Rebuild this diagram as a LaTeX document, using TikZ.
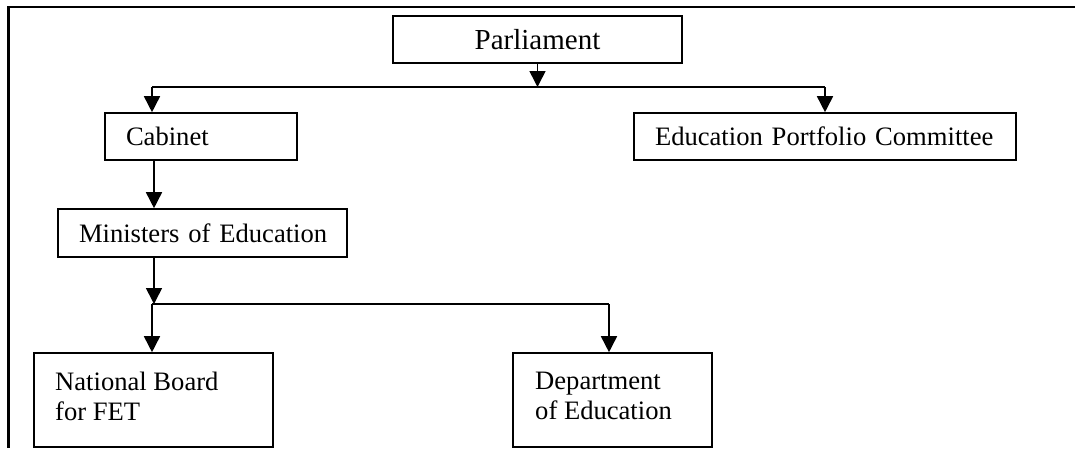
\documentclass[tikz,border=0pt]{standalone}
\usepackage{fontspec}
\setmainfont{Liberation Serif}
\usetikzlibrary{arrows.meta,calc}
\begin{document}
\begin{tikzpicture}[x=1pt,y=-1pt,
  box/.style={draw=black, line width=1.6pt, fill=white, inner ysep=0pt, inner xsep=21pt, align=left,
    font=\fontsize{26.6}{30}\selectfont},
  plainbox/.style={draw=black, line width=1.6pt, inner sep=0pt},
  lbl/.style={anchor=north west, inner sep=0pt, align=left, font=\fontsize{26.6}{30}\selectfont},
  conn/.style={line width=1.6pt},
  arr/.style={line width=1.6pt, -{Triangle[length=16pt,width=16pt]}}]
\useasboundingbox (0,0) rectangle (1075,448);
% outer frame (top and left sides)
\draw[line width=2.6pt] (1075,7) -- (8.5,7) -- (8.5,448);

\node[box, align=center, inner xsep=0pt, minimum width=289pt, minimum height=47pt,
  font=\fontsize{29}{32}\selectfont] (parl) at (537.5,39.5) {Parliament};
\node[box, text width=150pt, minimum height=47pt] (cab) at (201,136.5) {\mbox{Cabinet}};
\node[box, text width=340pt, minimum height=47pt] (epc) at (825,136.5) {\mbox{Education Portfolio Committee}};
\node[box, text width=247pt, minimum height=48pt] (min) at (202.5,233) {\mbox{Ministers of Education}};

\node[plainbox, minimum width=239pt, minimum height=94pt] (nb) at (153.5,400) {};
\node[plainbox, minimum width=199pt, minimum height=94pt] (doe) at (612.5,400) {};
\node[lbl] (nbl) at (55,372) {National Board\\for FET};
\node[lbl] (doel) at (535,372) {Department\\of Education};

% connectors from Parliament
\coordinate (j1) at (537.5,87);
\coordinate (j1l) at (152,87);
\coordinate (j1r) at (825,87);
\draw[arr] (parl.south) -- (j1);
\draw[conn] (j1l) -- (j1r);
\draw[arr] (j1l) -- (j1l |- cab.north);
\draw[arr] (j1r) -- (j1r |- epc.north);

% Cabinet to Ministers
\draw[arr] (cab.south -| 154,0) -- (154,0 |- min.north);

% Ministers to bottom boxes
\coordinate (j2) at (154,304);
\coordinate (j2l) at (152,304);
\coordinate (j2r) at (609,304);
\draw[arr] (min.south -| j2) -- (j2);
\draw[conn] (j2l) -- (j2r);
\draw[arr] (j2l) -- (j2l |- nb.north);
\draw[arr] (j2r) -- (j2r |- doe.north);
\end{tikzpicture}
\end{document}
